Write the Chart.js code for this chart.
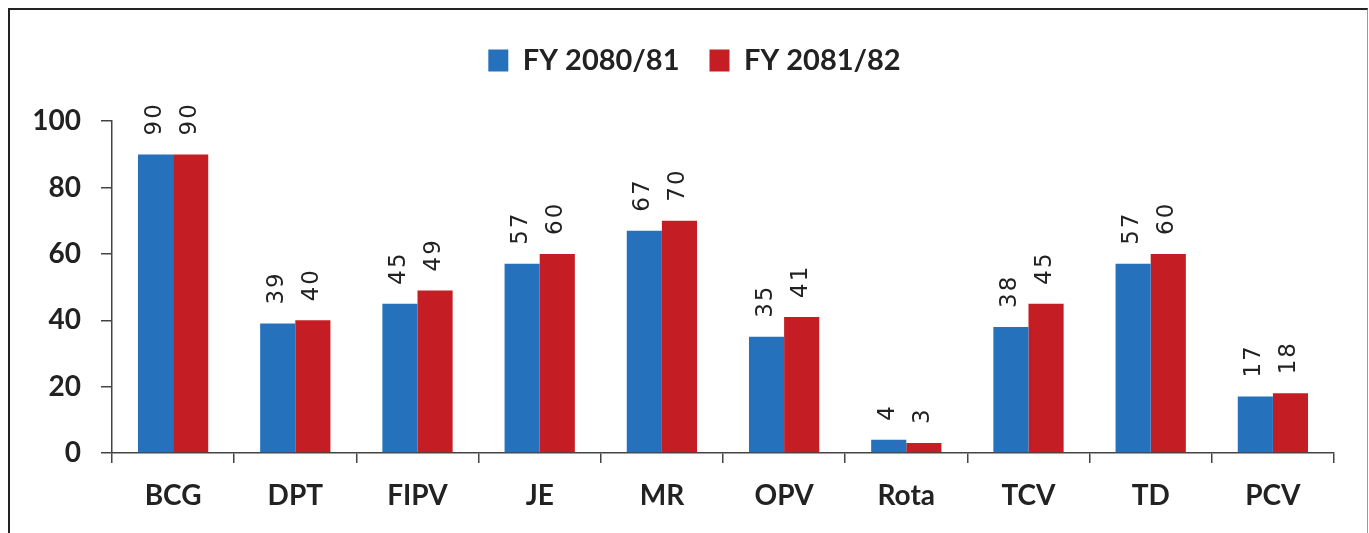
<!DOCTYPE html>
<html>
<head>
<meta charset="utf-8">
<script src="https://cdn.jsdelivr.net/npm/chart.js@4"></script>
<style>
  html, body { margin: 0; padding: 0; background: #fff; overflow: hidden; }
  #frame {
    position: absolute; left: 8px; top: 8px; width: 1357px; height: 600px;
    border-top: 2px solid #222; border-left: 2px solid #222; border-right: 1px solid #999;
  }
  #wrap { position: absolute; left: 0; top: 0; width: 1369px; height: 533px; }
</style>
</head>
<body>
<div id="frame"></div>
<div id="wrap"><canvas id="vaccineChart"></canvas></div>
<script>
// vaccine categories and values per fiscal year
const categories = ["BCG", "DPT", "FIPV", "JE", "MR", "OPV", "Rota", "TCV", "TD", "PCV"];
const fy8081 = [90, 39, 45, 57, 67, 35, 4, 38, 57, 17];
const fy8182 = [90, 40, 49, 60, 70, 41, 3, 45, 60, 18];
const yTicks = [0, 20, 40, 60, 80, 100];

// ==========================
// rotated value labels above bars
// ==========================
const barValueLabels = {
  id: "barValueLabels",
  afterDatasetsDraw(chart) {
    const ctx = chart.ctx;
    ctx.save();
    ctx.font = "23px 'DejaVu Sans'";
    ctx.letterSpacing = "2px";
    ctx.fillStyle = "#222";
    ctx.textAlign = "left";
    ctx.textBaseline = "middle";
    chart.data.datasets.forEach((ds, i) => {
      chart.getDatasetMeta(i).data.forEach((bar, j) => {
        ctx.save();
        ctx.translate(bar.x - 1, bar.y - 19);
        ctx.rotate(-Math.PI / 2);
        ctx.fillText(String(ds.data[j]), 0, 0);
        ctx.restore();
      });
    });
    ctx.restore();
  }
};

const ctx = document.getElementById("vaccineChart").getContext("2d");
new Chart(ctx, {
  type: "bar",
  data: {
    labels: categories,
    datasets: [
      { label: "FY 2080/81", data: fy8081, backgroundColor: "#2671BC" },
      { label: "FY 2081/82", data: fy8182, backgroundColor: "#C41E24" }
    ]
  },
  options: {
    responsive: true,
    maintainAspectRatio: false,
    animation: false,
    categoryPercentage: 0.575,
    barPercentage: 1,
    layout: { padding: { top: 16, right: 0, bottom: 0, left: 20 } },
    plugins: {
      tooltip: { enabled: false },
      legend: {
        position: "top",
        weight: 3000,
        labels: {
          font: { family: "Lato", weight: "bold", size: 29 },
          color: "#222",
          boxWidth: 20,
          boxHeight: 22,
          padding: 30
        }
      },
      // empty title used only as a spacer under the legend
      title: {
        display: true,
        text: " ",
        font: { size: 1 },
        padding: { top: 0, bottom: 35 }
      }
    },
    scales: {
      x: {
        grid: { drawOnChartArea: false, tickLength: 10, color: "#444", lineWidth: 1.5 },
        border: { color: "#444", width: 1.5 },
        ticks: {
          font: { family: "Lato", weight: "bold", size: 28 },
          color: "#222",
          padding: 16
        },
        afterFit(scale) { scale.height = 80; }
      },
      y: {
        min: 0,
        max: 100,
        afterBuildTicks(scale) { scale.ticks = yTicks.map(v => ({ value: v })); },
        grid: { drawOnChartArea: false, tickLength: 11, color: "#444", lineWidth: 1.5 },
        border: { color: "#444", width: 1.5 },
        ticks: {
          font: { family: "Lato", weight: "bold", size: 28 },
          color: "#222",
          padding: 20
        },
        afterFit(scale) { scale.width = 92; }
      },
      // blank right axis that only reserves the right margin
      yRight: {
        position: "right",
        grid: { display: false },
        border: { display: false },
        ticks: { display: false },
        afterFit(scale) { scale.width = 35; }
      }
    }
  },
  plugins: [barValueLabels]
});
</script>
</body>
</html>
